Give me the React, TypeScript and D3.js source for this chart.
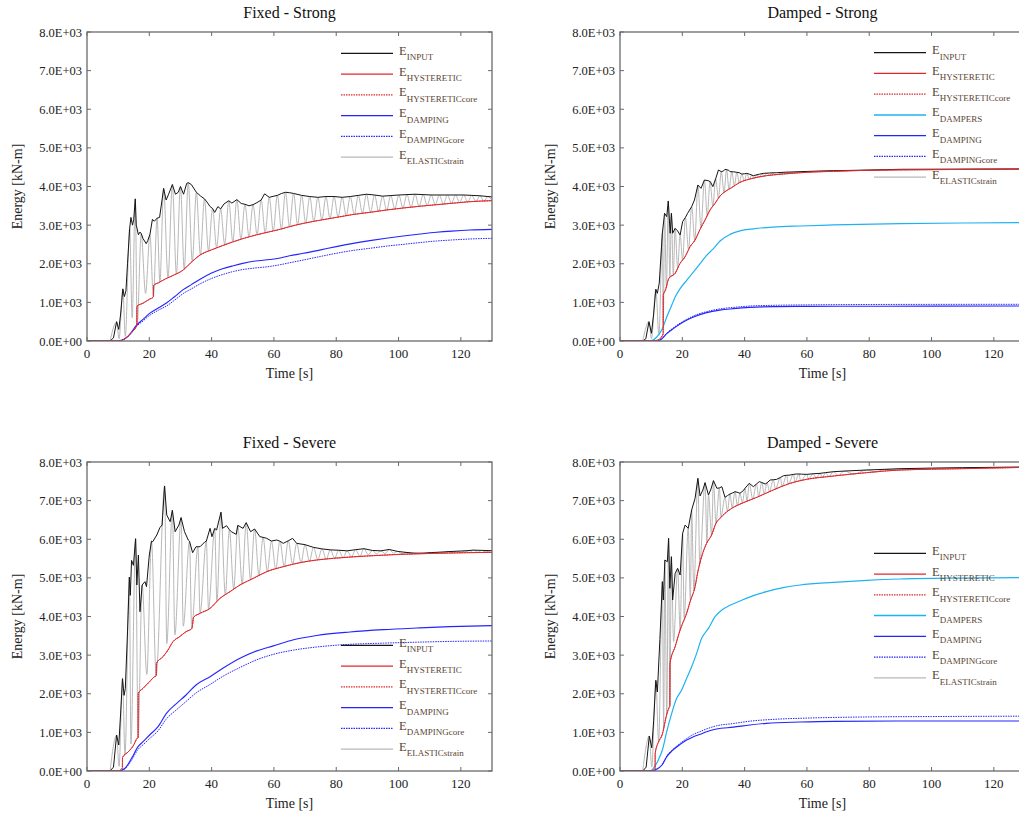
import React from "react";
import * as d3 from "d3";

type Pt = [number, number];

// ---------- tick values ----------
const X_TICKS = [0, 20, 40, 60, 80, 100, 120];
const Y_TICKS = [0, 1000, 2000, 3000, 4000, 5000, 6000, 7000, 8000];

// ---------- Fixed - Strong ----------
const FS_INPUT: Pt[] = [[0,0],[7.4,0],[8.5,80],[9.5,500],[10.2,300],[10.8,700],[11.5,1350],[12.0,1150],[12.5,1300],[13.0,2000],[13.7,2920],[14.1,3200],[14.6,3000],[15.0,3150],[15.5,3680],[15.8,3000],[16.1,2900],[16.5,2750],[17.0,2820],[17.4,2780],[18.0,2650],[19.0,2520],[19.5,2600],[20.2,2760],[21.0,3150],[21.6,3100],[22.5,3180],[23.3,3200],[24.0,3600],[24.6,3950],[25.4,3650],[26.2,3800],[27.4,4050],[28.4,3800],[29.3,3850],[30.0,4000],[31.0,3800],[32.0,4080],[32.5,4100],[33.5,4050],[35.1,3850],[36.5,3750],[37.7,3680],[38.5,3600],[39.5,3480],[40.3,3430],[41.0,3330],[42.0,3480],[42.9,3420],[44.0,3550],[45.5,3630],[46.5,3570],[48.1,3660],[49.5,3560],[50.7,3540],[52.0,3500],[53.3,3530],[54.5,3580],[55.9,3650],[57.0,3810],[58.5,3720],[60.0,3750],[61.1,3770],[62.5,3820],[63.7,3850],[65.0,3840],[66.3,3820],[68.9,3770],[71.5,3740],[74.1,3720],[76.7,3740],[79.3,3740],[81.9,3720],[84.5,3740],[87.1,3770],[89.7,3800],[92.3,3780],[94.9,3750],[97.5,3765],[100.1,3780],[102.7,3790],[105.3,3800],[107.9,3790],[110.5,3780],[113.1,3780],[115.7,3780],[118.3,3780],[120.9,3780],[123.5,3770],[126.1,3760],[128.7,3740],[130,3730]];
const FS_HYST: Pt[] = [[0,0],[10,0],[12,50],[14,200],[16.0,410],[16.05,900],[18,980],[20,1080],[21.3,1140],[21.4,1440],[23,1510],[25,1600],[27.7,1700],[30.9,1840],[33.5,2040],[36.3,2226],[40,2360],[43.5,2470],[47,2571],[50,2650],[54,2740],[58.7,2830],[62,2891],[65,2960],[69.5,3046],[75,3130],[80.1,3201],[85,3270],[90.8,3331],[96,3390],[101.5,3443],[107,3490],[112.2,3529],[117,3565],[122.9,3607],[130,3633]];
const FS_DAMP: Pt[] = [[0,0],[9.5,0],[11,20],[12.5,80],[14,200],[15.9,410],[18,560],[20.2,720],[23,860],[25.6,990],[28,1140],[30.9,1330],[33.5,1460],[36.3,1600],[40,1760],[43.5,1870],[47,1950],[50,2010],[54,2070],[58.7,2110],[62,2150],[65,2205],[69.5,2270],[75,2360],[80,2443],[85,2520],[90.8,2598],[96,2660],[101.5,2719],[107,2770],[112.2,2814],[117,2845],[122.9,2874],[130,2891]];
const FS_DAMPC: Pt[] = [[0,0],[9.5,0],[11,15],[12.5,70],[14,180],[15.9,380],[18,520],[20.2,670],[23,800],[25.6,910],[28,1050],[30.9,1230],[33.5,1350],[36.3,1480],[40,1620],[43.5,1720],[47,1800],[50,1850],[54,1890],[58.7,1930],[62,1975],[65,2025],[69.5,2097],[75,2190],[80,2270],[85,2340],[90.8,2400],[96,2455],[101.5,2502],[107,2550],[112.2,2589],[117,2615],[122.9,2641],[130,2658]];
const FS_ELASTIC: Pt[] = [[7.4,0],[9.5,490],[10.3,60],[11.5,1340],[12.3,120],[13.7,2920],[14.5,600],[15.5,3680],[16.1,410],[17.4,2780],[18.8,1230],[20.2,2760],[21.3,1150],[22.5,3180],[23.4,1530],[24.6,3950],[26.0,1640],[27.4,4050],[28.7,1740],[30.0,4000],[31.2,1860],[32.5,4100],[33.8,2060],[35.1,3850],[36.4,2230],[37.7,3680],[39.0,2330],[40.3,3430],[41.6,2420],[42.9,3420],[44.2,2500],[45.5,3630],[46.8,2570],[48.1,3660],[49.4,2640],[50.7,3540],[52.0,2700],[53.3,3530],[54.6,2750],[55.9,3650],[57.2,2800],[58.5,3720],[59.8,2850],[61.1,3770],[62.4,2900],[63.7,3850],[65.0,2960],[66.3,3820],[67.6,3010],[68.9,3770],[70.2,3055],[71.5,3740],[72.8,3095],[74.1,3720],[75.4,3135],[76.7,3740],[78.0,3170],[79.3,3740],[80.6,3205],[81.9,3720],[83.2,3245],[84.5,3740],[85.8,3280],[87.1,3770],[88.4,3310],[89.7,3800],[91.0,3335],[92.3,3780],[93.6,3360],[94.9,3750],[96.2,3390],[97.5,3765],[98.8,3420],[100.1,3780],[101.4,3445],[102.7,3790],[104.0,3465],[105.3,3800],[106.6,3488],[107.9,3790],[109.2,3510],[110.5,3780],[111.8,3528],[113.1,3780],[114.4,3545],[115.7,3780],[117.0,3565],[118.3,3780],[119.6,3585],[120.9,3780],[122.2,3602],[123.5,3770],[124.8,3615],[126.1,3760],[127.4,3625],[128.7,3740],[130,3640]];

// ---------- Damped - Strong ----------
const DS_INPUT: Pt[] = [[0,0],[7.3,0],[8.3,60],[9.3,500],[10.1,200],[10.8,700],[11.5,1340],[12.0,1235],[12.6,1500],[13.6,2790],[14.3,3306],[15.0,3220],[15.5,3625],[16.1,2790],[16.5,3306],[16.9,2790],[17.7,2917],[18.5,2850],[19.3,2744],[20.1,3090],[21.0,3200],[21.7,3306],[23.0,3478],[23.9,3650],[25.0,4039],[26.0,3952],[27.1,4168],[28.3,4150],[29.0,4125],[29.8,3996],[30.7,4200],[31.6,4427],[32.5,4384],[33.2,4400],[33.7,4445],[34.9,4420],[35.3,4384],[36.5,4380],[37.5,4367],[38.2,4360],[39.1,4323],[40.0,4330],[40.7,4340],[41.5,4320],[42.8,4280],[44.8,4320],[46.0,4340],[48.0,4350],[50.3,4357],[53,4370],[57.8,4384],[62,4395],[68.5,4410],[80,4425],[90,4445],[110,4450],[130,4453]];
const DS_HYST: Pt[] = [[0,0],[10,0],[12,20],[13.85,180],[13.9,1190],[14.6,1321],[15.7,1623],[17.7,1752],[19.3,2011],[20.9,2183],[22.5,2442],[24.1,2615],[25.7,2891],[27.3,3132],[28.9,3391],[30.5,3563],[32.1,3753],[33.7,3866],[35.8,3969],[38.5,4107],[41.7,4194],[47,4280],[52.4,4323],[59.9,4367],[68.5,4393],[79.2,4419],[100,4436],[130,4453]];
const DS_DAMPERS: Pt[] = [[0,0],[9.5,0],[10.2,10],[11.8,104],[13.6,320],[15,622],[16.6,924],[17.7,1140],[19.3,1356],[21.4,1572],[23.6,1787],[25.7,2003],[27.8,2219],[30,2391],[32.1,2590],[35.3,2760],[38.5,2850],[42.8,2905],[49.2,2950],[57.8,2978],[68.5,3004],[89.9,3038],[110,3055],[130,3064]];
const DS_DAMP: Pt[] = [[0,0],[10,0],[12.8,20],[15,190],[17.1,320],[20.3,492],[23.6,622],[27.8,734],[32,800],[36.4,837],[41.7,870],[50,890],[60,897],[80,900],[100,902],[130,905]];
const DS_DAMPC: Pt[] = [[0,0],[10,0],[12.8,25],[15,200],[17.1,340],[20.3,510],[23.6,650],[27.8,760],[32,830],[36.4,870],[41.7,905],[50,925],[60,935],[80,945],[100,948],[130,950]];
const DS_ELASTIC: Pt[] = [[7.3,0],[9.3,500],[10.1,60],[11.5,1340],[12.5,150],[13.6,2790],[13.9,450],[14.3,3306],[14.9,1400],[15.5,3625],[16.0,1650],[16.5,3306],[17.1,1713],[17.7,2917],[18.5,1882],[19.3,2744],[20.1,2097],[21.0,3200],[22.0,2361],[23.0,3478],[24.0,2604],[25.0,4039],[26.0,2936],[27.1,4168],[28.0,3245],[28.9,4128],[29.8,3488],[30.7,4200],[31.6,3694],[32.5,4384],[33.4,3845],[34.2,4435],[35.0,3930],[35.9,4382],[36.7,4015],[37.5,4367],[38.3,4097],[39.1,4323],[39.9,4145],[40.7,4340],[41.5,4190],[42.3,4295],[43.1,4217],[44.0,4300],[44.8,4244],[45.6,4333],[46.4,4270],[47.2,4346],[48.0,4288],[48.9,4353],[49.8,4303],[52,4340],[56,4360],[60,4380],[68.5,4400],[80,4425],[100,4440],[130,4453]];

// ---------- Fixed - Severe ----------
const FV_INPUT: Pt[] = [[0,0],[7.4,0],[8.5,100],[9.5,930],[10.2,673],[10.8,1500],[11.4,2390],[11.9,1959],[12.3,2131],[13.0,3600],[13.6,5022],[13.9,4548],[14.3,5454],[14.9,5324],[15.6,6014],[16.0,4816],[16.5,5592],[17.0,4125],[17.7,4816],[18.6,4902],[19.1,4773],[20.0,5592],[20.7,5950],[21.1,5937],[22.4,6110],[23.4,6300],[24.1,6369],[24.9,7380],[25.6,6627],[26.7,6455],[27.4,6750],[28.3,6196],[29.5,6368],[30.2,6560],[31.3,6196],[32.5,5980],[32.9,5950],[33.9,5652],[35.0,5807],[35.6,5807],[36.3,5807],[37.9,5937],[38.3,5950],[39.5,6282],[40.1,6066],[41.0,6280],[41.6,6239],[43.0,6700],[43.5,6282],[44.8,6351],[45.7,6250],[46.3,6196],[47.9,6127],[48.4,6360],[50.1,6282],[51.1,6430],[52.5,6196],[53.8,6265],[55.5,6066],[56.5,6050],[57.7,6023],[59.2,5954],[60.9,5980],[61.9,5950],[63.0,5894],[64.6,5960],[66.0,6023],[67.3,5894],[70.0,5860],[72.7,5790],[75.4,5750],[78.1,5725],[80.8,5715],[83.5,5700],[86.2,5730],[88.9,5755],[91.6,5710],[94.3,5700],[97.0,5735],[99.7,5685],[102.4,5660],[105.1,5640],[107.8,5640],[110.5,5655],[113.2,5665],[115.9,5680],[118.6,5690],[121.3,5700],[124.0,5718],[126.7,5712],[129.4,5705],[130,5705]];
const FV_HYST: Pt[] = [[0,0],[10,0],[11.35,80],[11.4,350],[13.3,500],[15,673],[16.1,846],[16.4,860],[16.45,2011],[18,2140],[20.1,2313],[21.7,2442],[22.2,2460],[22.3,2788],[24.4,2960],[26,3132],[27.6,3348],[29.7,3477],[31.8,3607],[33.7,3693],[34.2,3978],[36.3,4082],[39.5,4211],[42.7,4470],[45.9,4643],[49.1,4816],[53.4,4988],[57.7,5161],[63,5290],[68.4,5394],[73.7,5462],[79.1,5506],[89.8,5566],[100.5,5609],[111.3,5635],[121.9,5652],[130,5661]];
const FV_DAMP: Pt[] = [[0,0],[10.1,0],[12.2,70],[14.3,328],[16.4,630],[18,759],[20.1,932],[22.8,1148],[25.5,1493],[28.8,1752],[31.8,1968],[35,2227],[39.5,2442],[43.6,2658],[49.1,2917],[54.5,3110],[59.8,3240],[66.3,3400],[73.7,3510],[84.4,3600],[95.1,3660],[105.8,3702],[116.5,3737],[130,3763]];
const FV_DAMPC: Pt[] = [[0,0],[10.1,0],[12.2,60],[14.3,280],[16.4,560],[18,680],[20.1,840],[22.8,1040],[25.5,1350],[28.8,1590],[31.8,1800],[35,2020],[39.5,2240],[43.6,2450],[49.1,2680],[54.5,2880],[59.8,3020],[66.3,3130],[73.7,3210],[84.4,3280],[95.1,3310],[105.8,3335],[116.5,3355],[130,3366]];
const FV_ELASTIC: Pt[] = [[7.4,0],[9.5,930],[10.3,120],[11.4,2390],[12.2,420],[13.6,5022],[14.1,700],[15.6,6014],[16.4,860],[17.7,4816],[19.2,2500],[20.7,5950],[22.2,2480],[24.9,7380],[25.6,3300],[27.4,6750],[28.2,3520],[30.2,6560],[30.9,3750],[32.9,5950],[33.6,3700],[35.6,5807],[36.3,4090],[38.3,5950],[39.0,4200],[41.0,6280],[41.7,4390],[43.0,6700],[44.4,4570],[45.7,6250],[47.1,4715],[48.4,6360],[49.8,4850],[51.1,6430],[52.5,4955],[53.8,6265],[55.2,5065],[56.5,6050],[57.9,5170],[59.2,5954],[60.6,5230],[61.9,5950],[63.3,5300],[64.6,5960],[66.0,5355],[67.3,5894],[68.7,5400],[70.0,5860],[71.4,5436],[72.7,5790],[74.1,5468],[75.4,5750],[76.8,5490],[78.1,5725],[79.5,5512],[80.8,5715],[82.2,5528],[83.5,5700],[84.9,5545],[86.2,5730],[87.6,5560],[88.9,5755],[90.3,5600],[91.6,5710],[93.0,5620],[94.3,5700],[95.7,5630],[97.0,5735],[98.4,5640],[99.7,5685],[101.1,5625],[102.4,5660],[103.8,5625],[105.1,5640],[106.5,5628],[107.8,5640],[109.2,5632],[110.5,5655],[111.9,5638],[113.2,5665],[114.6,5645],[115.9,5680],[117.3,5650],[118.6,5690],[120.0,5655],[121.3,5700],[122.7,5660],[124.0,5718],[125.4,5665],[126.7,5712],[128.1,5668],[129.4,5705],[130,5690]];

// ---------- Damped - Severe ----------
const DV_INPUT: Pt[] = [[0,0],[7.3,0],[8.4,100],[9.4,906],[10.2,600],[10.8,1300],[11.5,2347],[12.0,2045],[12.8,3400],[13.6,4902],[13.9,4427],[14.4,5462],[15.2,5419],[15.6,6023],[16.0,4730],[16.5,5548],[16.9,4427],[17.7,5117],[18.5,5246],[19.3,5074],[20.1,6153],[20.9,6368],[21.9,6282],[23.0,6757],[24.1,7060],[25.0,7577],[25.7,7120],[26.6,7275],[27.3,7465],[28.4,7146],[29.2,7300],[30.0,7517],[31.1,7318],[31.9,7330],[32.7,7361],[33.7,7085],[34.5,7130],[35.3,7172],[36.2,7200],[36.9,7232],[37.9,7210],[38.5,7189],[39.6,7260],[40.1,7318],[41.5,7448],[42.8,7361],[43.8,7430],[44.7,7491],[45.5,7470],[46.6,7430],[47.2,7460],[48.2,7534],[49.2,7540],[50.3,7551],[51.5,7600],[52.5,7646],[53.5,7655],[54.6,7663],[55.7,7680],[56.7,7689],[57.4,7690],[58.3,7685],[59.9,7680],[62,7695],[64.2,7706],[66,7725],[68.5,7749],[72,7765],[79.2,7793],[85,7810],[89.9,7827],[100,7842],[110,7853],[120,7862],[130,7870]];
const DV_HYST: Pt[] = [[0,0],[10,0],[11.25,60],[11.3,457],[12.4,759],[13.5,932],[15.1,1493],[15.9,1666],[16.0,1680],[16.05,2788],[17.7,3220],[19.3,3651],[20.1,3824],[21.4,4082],[22.5,4384],[24.1,4773],[25,5161],[26.2,5548],[27.8,5894],[29.4,6110],[30.8,6412],[32.1,6541],[33.7,6671],[36.4,6826],[39.6,6947],[43.9,7085],[49.2,7275],[54.6,7448],[59.9,7551],[68.5,7637],[79.2,7724],[89.9,7793],[110,7827],[130,7862]];
const DV_DAMPERS: Pt[] = [[0,0],[9.5,0],[10.7,70],[12.3,285],[13.6,544],[15,1019],[16.6,1493],[18.2,1881],[19.8,2097],[21.4,2399],[23,2701],[24.6,3046],[26.2,3435],[28.4,3694],[30.5,3996],[32.7,4168],[35.3,4290],[38.5,4400],[42.8,4540],[47,4643],[52.4,4747],[57.8,4816],[68.5,4885],[79.2,4937],[89.9,4971],[110,4995],[130,5006]];
const DV_DAMP: Pt[] = [[0,0],[10,0],[11.3,25],[13.5,155],[15.1,380],[16.7,520],[19.3,690],[21.4,802],[23.6,889],[25.7,950],[27.8,1018],[31,1087],[36.4,1135],[41.7,1191],[47,1234],[57.8,1268],[68.5,1286],[90,1293],[130,1295]];
const DV_DAMPC: Pt[] = [[0,0],[10,0],[11.3,25],[13.5,165],[15.1,400],[16.7,540],[19.3,715],[21.4,840],[23.6,950],[25.7,1020],[27.8,1090],[31,1170],[36.4,1230],[41.7,1290],[50,1340],[60,1370],[80,1400],[100,1410],[130,1420]];
const DV_ELASTIC: Pt[] = [[7.3,0],[9.4,906],[10.2,100],[11.5,2347],[12.4,759],[13.6,4902],[14.0,1110],[14.4,5462],[15.0,1460],[15.6,6023],[16.0,1690],[16.5,5548],[17.2,3350],[18.5,5246],[19.3,3651],[20.1,6153],[20.6,3950],[21.9,6282],[22.6,4410],[23.0,6757],[23.7,4680],[25.0,7577],[25.6,5360],[27.3,7465],[27.9,5910],[28.4,7146],[29.4,6110],[30.0,7517],[30.8,6412],[31.9,7330],[32.4,6580],[33.7,7085],[34.5,6730],[35.3,7172],[36.0,6810],[36.9,7232],[37.7,6880],[38.5,7189],[39.3,6940],[40.1,7318],[40.8,6990],[41.5,7448],[42.6,7045],[43.8,7430],[44.5,7110],[45.5,7470],[46.3,7175],[47.2,7460],[48.0,7235],[49.2,7540],[49.9,7300],[51.5,7600],[52.0,7368],[53.5,7655],[54.0,7430],[55.7,7680],[56.2,7482],[57.4,7690],[58.0,7516],[59.9,7680],[60.5,7560],[62,7695],[63,7585],[64.2,7706],[65,7605],[66,7725],[67,7625],[68.5,7749],[70,7652],[72,7765],[75,7690],[79.2,7793],[82,7745],[85,7810],[90,7795],[100,7830],[130,7865]];

// ---------- styles ----------
type Style = { key: string; label: string; color: string; width: number; dash?: string; smooth?: boolean };
const ST: Record<string, Style> = {
  input: { key: "input", label: "INPUT", color: "#151515", width: 1 },
  hyst: { key: "hyst", label: "HYSTERETIC", color: "#e0282c", width: 1, smooth: true },
  hystc: { key: "hystc", label: "HYSTERETICcore", color: "#e0282c", width: 1, dash: "1.5,1", smooth: true },
  dampers: { key: "dampers", label: "DAMPERS", color: "#1fb2f2", width: 1.2, smooth: true },
  damp: { key: "damp", label: "DAMPING", color: "#2424ff", width: 1.1, smooth: true },
  dampc: { key: "dampc", label: "DAMPINGcore", color: "#2424ff", width: 1, dash: "1.5,1", smooth: true },
  elastic: { key: "elastic", label: "ELASTICstrain", color: "#b8b8b8", width: 1, smooth: true },
};

type Series = { style: Style; data: Pt[] };
type PanelDef = {
  id: string; title: string; left: number; top: number; legendTop: number;
  draw: Series[]; legend: Style[];
};

const PLOT_W = 405;
const PLOT_H = 309;
const FONT = "'Liberation Serif', 'Times New Roman', serif";

const PANELS: PanelDef[] = [
  {
    id: "fs", title: "Fixed - Strong", left: 87, top: 32, legendTop: 53.3,
    draw: [
      { style: ST.elastic, data: FS_ELASTIC },
      { style: ST.input, data: FS_INPUT },
      { style: ST.damp, data: FS_DAMP },
      { style: ST.dampc, data: FS_DAMPC },
      { style: ST.hyst, data: FS_HYST },
      { style: ST.hystc, data: FS_HYST },
    ],
    legend: [ST.input, ST.hyst, ST.hystc, ST.damp, ST.dampc, ST.elastic],
  },
  {
    id: "ds", title: "Damped - Strong", left: 620, top: 32, legendTop: 52.7,
    draw: [
      { style: ST.elastic, data: DS_ELASTIC },
      { style: ST.input, data: DS_INPUT },
      { style: ST.dampers, data: DS_DAMPERS },
      { style: ST.damp, data: DS_DAMP },
      { style: ST.dampc, data: DS_DAMPC },
      { style: ST.hyst, data: DS_HYST },
      { style: ST.hystc, data: DS_HYST },
    ],
    legend: [ST.input, ST.hyst, ST.hystc, ST.dampers, ST.damp, ST.dampc, ST.elastic],
  },
  {
    id: "fv", title: "Fixed - Severe", left: 87, top: 462, legendTop: 645.3,
    draw: [
      { style: ST.elastic, data: FV_ELASTIC },
      { style: ST.input, data: FV_INPUT },
      { style: ST.damp, data: FV_DAMP },
      { style: ST.dampc, data: FV_DAMPC },
      { style: ST.hyst, data: FV_HYST },
      { style: ST.hystc, data: FV_HYST },
    ],
    legend: [ST.input, ST.hyst, ST.hystc, ST.damp, ST.dampc, ST.elastic],
  },
  {
    id: "dv", title: "Damped - Severe", left: 620, top: 462, legendTop: 553.3,
    draw: [
      { style: ST.elastic, data: DV_ELASTIC },
      { style: ST.input, data: DV_INPUT },
      { style: ST.dampers, data: DV_DAMPERS },
      { style: ST.damp, data: DV_DAMP },
      { style: ST.dampc, data: DV_DAMPC },
      { style: ST.hyst, data: DV_HYST },
      { style: ST.hystc, data: DV_HYST },
    ],
    legend: [ST.input, ST.hyst, ST.hystc, ST.dampers, ST.damp, ST.dampc, ST.elastic],
  },
];

const fmtY = (v: number) => (v === 0 ? "0.0E+00" : (v / 1000).toFixed(1) + "E+03");

function Panel({ p }: { p: PanelDef }) {
  const x = d3.scaleLinear().domain([0, 130]).range([p.left, p.left + PLOT_W]);
  const y = d3.scaleLinear().domain([0, 8000]).range([p.top + PLOT_H, p.top]);
  const lineLin = d3.line<Pt>().x((d) => x(d[0])).y((d) => y(d[1]));
  const lineSmooth = d3.line<Pt>().x((d) => x(d[0])).y((d) => y(d[1])).curve(d3.curveMonotoneX);
  const bottom = p.top + PLOT_H;
  const right = p.left + PLOT_W;
  const axisColor = "#6a6a6a";
  const tick = 4;
  const legStep = 20.75;
  return (
    <g>
      <defs>
        <clipPath id={`clip-${p.id}`}>
          <rect x={p.left} y={p.top} width={PLOT_W} height={PLOT_H} />
        </clipPath>
      </defs>
      <text x={(p.left + right) / 2} y={p.top - 14.5} textAnchor="middle" fontSize={16} fontFamily={FONT} fill="#111">
        {p.title}
      </text>
      <g clipPath={`url(#clip-${p.id})`}>
        {p.draw.map((s, i) => (
          <path key={i} d={(s.style.smooth ? lineSmooth : lineLin)(s.data) || ""} fill="none" stroke={s.style.color}
            strokeWidth={s.style.width} strokeDasharray={s.style.dash} strokeLinejoin="round" />
        ))}
      </g>
      <rect x={p.left} y={p.top} width={PLOT_W} height={PLOT_H} fill="none" stroke={axisColor} strokeWidth={1.3} />
      {X_TICKS.map((t) => (
        <g key={"x" + t}>
          <line x1={x(t)} x2={x(t)} y1={bottom} y2={bottom - tick} stroke={axisColor} strokeWidth={1} />
          <line x1={x(t)} x2={x(t)} y1={p.top} y2={p.top + tick} stroke={axisColor} strokeWidth={1} />
          <text x={x(t)} y={bottom + 17} textAnchor="middle" fontSize={13} fontFamily={FONT} fill="#222">{t}</text>
        </g>
      ))}
      {Y_TICKS.map((v) => (
        <g key={"y" + v}>
          <line x1={p.left} x2={p.left + tick} y1={y(v)} y2={y(v)} stroke={axisColor} strokeWidth={1} />
          <line x1={right} x2={right - tick} y1={y(v)} y2={y(v)} stroke={axisColor} strokeWidth={1} />
          <text x={p.left - 5} y={y(v) + 4.5} textAnchor="end" fontSize={12.5} fontFamily={FONT} fill="#222">{fmtY(v)}</text>
        </g>
      ))}
      <text x={(p.left + right) / 2} y={bottom + 37} textAnchor="middle" fontSize={14} fontFamily={FONT} fill="#222">Time [s]</text>
      <text transform={`translate(${p.left - 65},${p.top + PLOT_H / 2}) rotate(-90)`} textAnchor="middle" fontSize={14} fontFamily={FONT} fill="#222">Energy [kN-m]</text>
      {p.legend.map((s, i) => {
        const ly = p.legendTop + i * legStep;
        const lx = p.left + 254;
        return (
          <g key={"l" + s.key}>
            <line x1={lx} x2={lx + 52} y1={ly} y2={ly} stroke={s.color} strokeWidth={s.width + 0.2} strokeDasharray={s.dash} />
            <text x={lx + 58} y={ly + 1.5} fontSize={12.5} fontFamily={FONT} fill="#5a4535">
              E<tspan dy={5.5} fontSize={9}>{s.label}</tspan>
            </text>
          </g>
        );
      })}
    </g>
  );
}

export default function App() {
  return (
    <svg width={1019} height={816} style={{ position: "absolute", left: 0, top: 0, background: "#fff" }}>
      <rect x={0} y={0} width={1019} height={816} fill="#fff" />
      {PANELS.map((p) => <Panel key={p.id} p={p} />)}
    </svg>
  );
}
